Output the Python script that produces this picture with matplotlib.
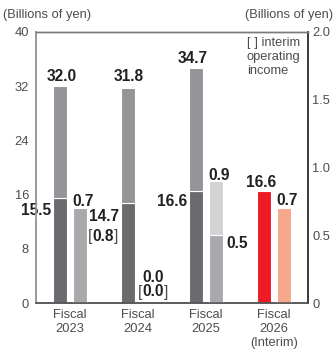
import matplotlib
matplotlib.use("Agg")
import matplotlib.pyplot as plt

# Net sales (left axis, billions of yen) and operating income (right axis)
years = ["Fiscal\n2023", "Fiscal\n2024", "Fiscal\n2025", "Fiscal\n2026\n(Interim)"]
sales_interim = [15.5, 14.7, 16.6, 16.6]
sales_full = [32.0, 31.8, 34.7, None]
oi_full = [0.7, 0.0, 0.9, None]
oi_interim = [0.8, 0.0, 0.5, 0.7]

left_ticks = [0, 8, 16, 24, 32, 40]
right_ticks = [0, 0.5, 1.0, 1.5, 2.0]
right_tick_labels = ["0", "0.5", "1.0", "1.5", "2.0"]

DARK = "#6a6b6f"
MID = "#949598"
LIGHT = "#a8a9ac"
PALE = "#d2d3d5"
RED = "#ed1c24"
SALMON = "#f6a88c"
TXT = "#231f20"
GRAY_TXT = "#4d4d4f"

FONT = "Liberation Sans"
BOLD = dict(family=FONT, weight="bold", fontsize=11.2, color=TXT)

fig = plt.figure(figsize=(3.35, 3.52), dpi=100)
ax = fig.add_axes([36 / 335, 49 / 352, 272 / 335, 271 / 352])
ax2 = ax.twinx()

W = 0.22
OFF = 0.147
xs = list(range(len(years)))
xd = [x - OFF for x in xs]
xl = [x + OFF for x in xs]

# sales bars
for i in range(len(years)):
    if sales_full[i] is None:
        ax.bar(xd[i], sales_interim[i], W, color=RED, edgecolor="white", linewidth=0.8)
    else:
        ax.bar(xd[i], sales_interim[i], W, color=DARK, edgecolor="white", linewidth=0.8)
        ax.bar(xd[i], sales_full[i] - sales_interim[i], W, bottom=sales_interim[i],
               color=MID, edgecolor="white", linewidth=0.8)

# operating income bars
ax2.bar(xl[0], oi_full[0], W, color=LIGHT, edgecolor="white", linewidth=0.8)
ax2.bar(xl[2], oi_interim[2], W, color=LIGHT, edgecolor="white", linewidth=0.8)
ax2.bar(xl[2], oi_full[2] - oi_interim[2], W, bottom=oi_interim[2], color=PALE,
        edgecolor="white", linewidth=0.8)
ax2.bar(xl[3], oi_interim[3], W, color=SALMON, edgecolor="white", linewidth=0.8)

ax.set_xlim(-0.5, 3.5)
ax.set_ylim(0, 40)
ax2.set_ylim(0, 2.0)

ax.set_yticks(left_ticks)
ax.set_yticklabels([str(t) for t in left_ticks], family=FONT, fontsize=9.3, color=GRAY_TXT)
ax2.set_yticks(right_ticks)
ax2.set_yticklabels(right_tick_labels, family=FONT, fontsize=9.3, color=GRAY_TXT)
ax.set_xticks(xs)
ax.set_xticklabels(years, family=FONT, fontsize=9.3, color=GRAY_TXT, linespacing=1.25)
ax.tick_params(axis="y", length=0, pad=5)
ax.tick_params(axis="x", length=0, pad=4)
ax2.tick_params(axis="y", length=0, pad=3)

for a in (ax, ax2):
    a.spines["left"].set_color("#9a9a9a")
    a.spines["left"].set_linewidth(1.3)
    a.spines["top"].set_color("#7a7a7a")
    a.spines["top"].set_linewidth(1.0)
    a.spines["right"].set_color("#333333")
    a.spines["right"].set_linewidth(1.1)
    a.spines["bottom"].set_color("#555555")
    a.spines["bottom"].set_linewidth(1.1)

PX = 0.72  # pixels to points


def label(axis, x, y, text, dx, dy, ha="center", bg=False, **kw):
    style = dict(BOLD)
    style.update(kw)
    bbox = dict(boxstyle="square,pad=0.05", fc="white", ec="none") if bg else None
    return axis.annotate(text, xy=(x, y), xytext=(dx * PX, dy * PX),
                         textcoords="offset points", ha=ha, va="center",
                         bbox=bbox, zorder=5, **style)


def bracket(t):
    kw = dict(family=FONT, fontsize=11.2, color=GRAY_TXT, va="center")
    ax2.annotate("[", xy=(0, 0.5), xycoords=t, ha="right", **kw)
    ax2.annotate("]", xy=(1, 0.5), xycoords=t, ha="left", **kw)


# sales labels
label(ax, xd[0], sales_full[0], f"{sales_full[0]:.1f}", 1.5, 10)
label(ax, xd[1], sales_full[1], f"{sales_full[1]:.1f}", 0.5, 11)
label(ax, xd[2], sales_full[2], f"{sales_full[2]:.1f}", -3.5, 9.5)
label(ax, xd[0] - W / 2, sales_interim[0], f"{sales_interim[0]:.1f}", -1, -13, ha="right", bg=True)
label(ax, xd[1] - W / 2, sales_interim[1], f"{sales_interim[1]:.1f}", -2, -13.5, ha="right")
label(ax, xd[2] - W / 2, sales_interim[2], f"{sales_interim[2]:.1f}", -1, -10.5, ha="right")
label(ax, xd[3], sales_interim[3], f"{sales_interim[3]:.1f}", -3, 8)

# operating income labels
label(ax2, xl[0] - W / 2, oi_full[0], f"{oi_full[0]:.1f}", 0, 7, ha="left")
t08 = label(ax2, xl[0] + W / 2, oi_full[0], f"{oi_interim[0]:.1f}", 16, -28)
bracket(t08)
label(ax2, xl[1], oi_full[1], f"{oi_full[1]:.1f}", 5, 25)
t00 = label(ax2, xl[1], oi_interim[1], f"{oi_interim[1]:.1f}", 5, 11)
bracket(t00)
label(ax2, xl[2] - W / 2, oi_full[2], f"{oi_full[2]:.1f}", 0, 6, ha="left")
label(ax2, xl[2] + W / 2, oi_interim[2], f"{oi_interim[2]:.1f}", 3, -8, ha="left")
label(ax2, xl[3], oi_interim[3], f"{oi_interim[3]:.1f}", 3.5, 8)

# axis titles and note
fig.text(3 / 335, 1 - 15 / 352, "(Billions of yen)", family=FONT, fontsize=9.3,
         color=GRAY_TXT, ha="left", va="center")
fig.text(333 / 335, 1 - 15 / 352, "(Billions of yen)", family=FONT, fontsize=9.3,
         color=GRAY_TXT, ha="right", va="center")
fig.text(247 / 335, 1 - 37 / 352, "[ ] interim\noperating\nincome", family=FONT,
         fontsize=9.3, color=GRAY_TXT, ha="left", va="top", linespacing=1.25)

fig.savefig("out.png", dpi=100)
